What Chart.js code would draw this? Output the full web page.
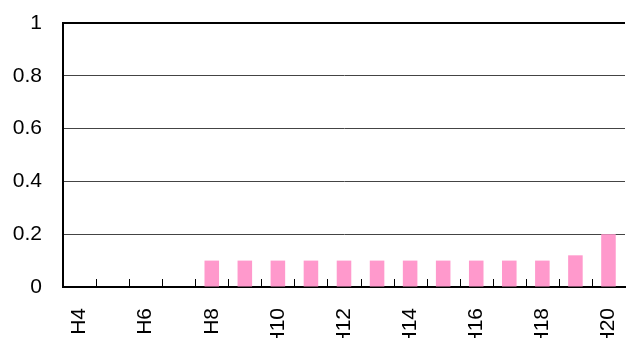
<!DOCTYPE html>
<html>
<head>
<meta charset="utf-8">
<script src="https://cdn.jsdelivr.net/npm/chart.js@4/dist/chart.umd.min.js"></script>
<style>
  html, body { margin: 0; padding: 0; background: #fff; overflow: hidden; }
  #wrap { width: 626px; height: 338px; overflow: hidden; }
  #box { width: 626px; height: 348px; }
</style>
</head>
<body>
<div id="wrap"><div id="box"><canvas id="c"></canvas></div></div>
<script>
// Fiscal years H4 - H20 and their ratio values
const years = ['H4','H5','H6','H7','H8','H9','H10','H11','H12','H13','H14','H15','H16','H17','H18','H19','H20'];
const ratios = [0, 0, 0, 0, 0.1, 0.1, 0.1, 0.1, 0.1, 0.1, 0.1, 0.1, 0.1, 0.1, 0.1, 0.12, 0.2];
const yTicks = [0, 0.2, 0.4, 0.6, 0.8, 1];

const FONT = "'Liberation Sans', Arial, sans-serif";
const CLEAR = 'rgba(0,0,0,0)';

// short tick marks pointing up into the plot at each category boundary
const innerTicks = {
  id: 'innerTicks',
  afterDatasetsDraw(chart) {
    const x = chart.scales.x, area = chart.chartArea, ctx = chart.ctx;
    ctx.save();
    ctx.strokeStyle = '#000';
    ctx.lineWidth = 1;
    for (let i = 1; i < years.length; i++) {
      const px = Math.round((x.getPixelForValue(i - 1) + x.getPixelForValue(i)) / 2) + 0.5;
      ctx.beginPath();
      ctx.moveTo(px, area.bottom);
      ctx.lineTo(px, area.bottom - 8);
      ctx.stroke();
    }
    ctx.restore();
  }
};

new Chart(document.getElementById('c'), {
  type: 'bar',
  data: {
    labels: years,
    datasets: [{
      data: ratios,
      backgroundColor: '#FF99CC',
      borderWidth: 0,
      barPercentage: 0.44,
      categoryPercentage: 1
    }]
  },
  options: {
    responsive: true,
    maintainAspectRatio: false,
    animation: false,
    layout: { padding: { top: 23, right: 1, left: 0, bottom: 0 } },
    plugins: { legend: { display: false }, tooltip: { enabled: false } },
    scales: {
      x: {
        grid: { display: false, drawTicks: true, tickLength: 21, tickColor: CLEAR },
        border: { display: true, color: '#000', width: 2 },
        ticks: {
          autoSkip: false,
          minRotation: 90,
          maxRotation: 90,
          padding: 0,
          color: '#000',
          font: { family: FONT, size: 21 },
          callback: (v, i) => (i % 2 === 0 ? years[i] : '')
        },
        afterFit(s) { s.height = 348 - 23 - 264; s.paddingRight = 0; }
      },
      y: {
        min: 0,
        max: 1,
        afterBuildTicks(s) { s.ticks = yTicks.map(v => ({ value: v })); },
        grid: {
          drawTicks: true,
          tickLength: 21,
          tickColor: CLEAR,
          color: c => (c.tick && c.tick.value === 1 ? '#000' : (c.tick && c.tick.value === 0 ? CLEAR : '#444')),
          lineWidth: c => (c.tick && c.tick.value === 1 ? 2 : 1)
        },
        border: { display: true, color: '#000', width: 2 },
        ticks: {
          padding: 0,
          color: '#000',
          font: { family: FONT, size: 21 },
          callback: v => String(v)
        },
        afterFit(s) { s.width = 63; }
      }
    }
  },
  plugins: [innerTicks]
});
</script>
</body>
</html>
